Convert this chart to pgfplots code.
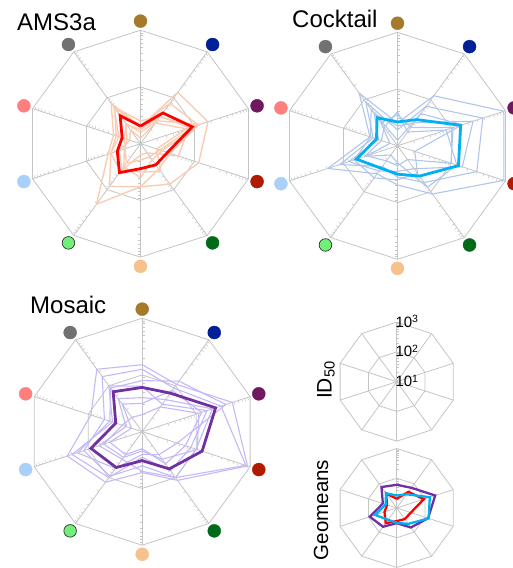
\documentclass[border=0pt]{standalone}
\usepackage{pgfplots}
\pgfplotsset{compat=1.18}
\usepackage{pgfplotstable}
\usepackage{fontspec}
\setmainfont{Liberation Sans}

\definecolor{gridc}{RGB}{196,196,196}
\definecolor{cBrown}{RGB}{165,122,42}
\definecolor{cDblue}{RGB}{0,32,154}
\definecolor{cPurple}{RGB}{112,24,96}
\definecolor{cDred}{RGB}{176,26,0}
\definecolor{cDgreen}{RGB}{0,106,24}
\definecolor{cPeach}{RGB}{245,194,142}
\definecolor{cLgreen}{RGB}{112,240,120}
\definecolor{cLblue}{RGB}{168,208,248}
\definecolor{cSalmon}{RGB}{255,127,127}
\definecolor{cGray}{RGB}{113,113,113}
\definecolor{amsT}{RGB}{255,0,0}
\definecolor{amsL}{RGB}{249,205,180}
\definecolor{cocT}{RGB}{0,176,240}
\definecolor{cocL}{RGB}{175,198,236}
\definecolor{mosT}{RGB}{112,48,160}
\definecolor{mosL}{RGB}{195,184,248}

% values: log10(ID50), directions clockwise from top
\pgfplotstableread{
c s t a1 a2 a3 a4 a5 a6
0 1 1.31 1.30 1.32 1.25 1.10 1.40 1.20
0.5878 0.8090 1.67 2.12 1.88 1.58 1.45 1.60 1.50
0.9511 0.3090 1.96 2.25 2.07 2.00 1.85 1.90 2.10
0.9511 -0.3090 1.50 2.08 1.55 1.36 1.30 1.70 1.40
0.5878 -0.8090 1.46 1.88 1.55 1.28 1.60 1.20 1.35
0 -1 1.44 1.76 1.76 1.29 1.50 1.20 1.60
-0.5878 -0.8090 1.63 2.32 1.93 1.42 1.55 1.60 1.50
-0.9511 -0.3090 1.43 1.60 1.55 1.29 1.40 1.55 1.30
-0.9511 0.3090 1.34 1.50 1.45 1.30 1.20 1.40 1.25
-0.5878 0.8090 1.61 1.88 1.77 1.41 1.30 1.80 1.45
0 1 1.31 1.30 1.32 1.25 1.10 1.40 1.20
}\amsdata

\pgfplotstableread{
c s t b1 b2 b3 b4 b5 b6
0 1 1.42 1.40 1.28 1.55 1.10 1.60 1.35
0.5878 0.8090 1.57 2.09 1.86 1.40 1.70 1.30 1.50
0.9511 0.3090 2.17 2.97 2.58 2.03 2.20 1.90 2.40
0.9511 -0.3090 2.13 2.97 2.47 1.99 1.32 2.10 2.20
0.5878 -0.8090 1.66 2.05 1.80 1.30 1.60 1.90 1.50
0 -1 1.50 1.69 1.55 1.35 1.60 1.30 1.45
-0.5878 -0.8090 1.49 1.61 1.45 1.33 1.70 1.20 1.55
-0.9511 -0.3090 1.76 2.29 2.07 1.57 1.80 1.60 1.90
-0.9511 0.3090 1.39 1.51 1.45 1.14 1.50 1.30 1.35
-0.5878 0.8090 1.61 2.15 1.95 1.50 1.79 1.40 1.70
0 1 1.42 1.40 1.28 1.55 1.10 1.60 1.35
}\cocdata

\pgfplotstableread{
c s t m1 m2 m3 m4 m5 m6 m7
0 1 1.78 2.18 2.10 1.30 1.90 1.60 1.80 1.50
0.5878 0.8090 1.84 2.03 1.95 1.54 2.10 1.70 1.60 1.90
0.9511 0.3090 2.36 2.67 2.46 2.05 2.55 2.30 2.20 2.10
0.9511 -0.3090 2.11 2.95 2.92 2.02 1.65 2.00 1.90 1.80
0.5878 -0.8090 1.81 2.06 2.00 1.60 1.50 2.00 1.85 1.70
0 -1 1.51 1.72 1.60 1.34 1.40 1.70 1.45 1.30
-0.5878 -0.8090 1.78 2.10 1.97 1.56 1.80 1.60 2.00 1.50
-0.9511 -0.3090 1.95 2.39 2.08 1.71 2.20 1.80 2.30 1.60
-0.9511 0.3090 1.49 1.95 1.70 1.37 1.60 1.30 1.55 1.20
-0.5878 0.8090 1.87 2.36 2.20 1.31 1.95 1.72 2.00 1.60
0 1 1.78 2.18 2.10 1.30 1.90 1.60 1.80 1.50
}\mosdata

\newcommand{\radargrid}[4]{%
 \begin{scope}[shift={(#1pt,#2pt)}]
  \draw[gridc, line width=0.8pt] (90:{2*#3pt}) \foreach \a in {54,18,...,-234}{ -- (\a:{2*#3pt})} -- cycle;
  \draw[gridc, line width=0.8pt] (90:{#3pt}) \foreach \a in {54,18,...,-234}{ -- (\a:{#3pt})} -- cycle;
  \foreach \a in {90,54,...,-234} \draw[gridc, line width=0.8pt] (0,0) -- (\a:{2*#3pt});
  \foreach \a in {#4} \foreach \r in {0.301,0.477,0.602,0.699,0.778,0.845,0.903,0.954,1.301,1.477,1.602,1.699,1.778,1.845,1.903,1.954} \draw[gridc, line width=0.5pt, rotate=\a] ({\r*#3pt},0) -- ++(0,-2.6pt);
 \end{scope}}

\newcommand{\rplot}[3]{\addplot[#1] table[x expr={\thisrow{c}*(\thisrow{#2}-1)}, y expr={\thisrow{s}*(\thisrow{#2}-1)}] {#3};}

\newcommand{\dotat}[3]{\addplot[only marks, mark=*, mark size=6.5pt, mark options={fill=#1, draw=#1}] coordinates {(#2,#3)};}
\newcommand{\catdots}{%
 \dotat{cBrown}{0}{2.16}
 \dotat{cDblue}{1.2696}{1.7475}
 \dotat{cPurple}{2.0543}{0.6675}
 \dotat{cDred}{2.0543}{-0.6675}
 \dotat{cDgreen}{1.2696}{-1.7475}
 \dotat{cPeach}{0}{-2.16}
 \addplot[only marks, mark=*, mark size=6.3pt, mark options={fill=cLgreen, draw=black!80, line width=0.7pt}] coordinates {(-1.2696,-1.7475)};
 \dotat{cLblue}{-2.0543}{-0.6675}
 \dotat{cSalmon}{-2.0543}{0.6675}
 \dotat{cGray}{-1.2696}{1.7475}
}

\newcommand{\decade}[1]{10\raisebox{4.8pt}{\fontsize{10.5}{12}\selectfont #1}}

\pgfplotsset{radar/.style={hide axis, anchor=center, xmin=-2, xmax=2, ymin=-2, ymax=2, clip=false, enlargelimits=false},
 thinAms/.style={amsL, line width=1.4pt, line join=round, no marks},
 thinCoc/.style={cocL, line width=1.1pt, line join=round, no marks},
 thinMos/.style={mosL, line width=1.1pt, line join=round, no marks},
 thickAms/.style={amsT, line width=2.8pt, line join=miter, no marks},
 thickCoc/.style={cocT, line width=2.8pt, line join=miter, no marks},
 thickMos/.style={mosT, line width=2.8pt, line join=miter, no marks},
}

\begin{document}
\begin{tikzpicture}
\path (0,0) rectangle (512pt,568pt);
\radargrid{140.5}{424.3}{56.75}{90,54,...,-234}
\radargrid{397.5}{422.2}{56.75}{90,54,...,-234}
\radargrid{142.2}{136.3}{56.75}{90,54,...,-234}
\radargrid{396.7}{186.3}{29.75}{90}
\radargrid{396.7}{60}{29.75}{90}

% AMS3a
\begin{axis}[radar, x=56.75pt, y=56.75pt, at={(140.5pt,424.3pt)}]
\rplot{thinAms}{a1}{\amsdata}
\rplot{thinAms}{a2}{\amsdata}
\rplot{thinAms}{a3}{\amsdata}
\rplot{thinAms}{a4}{\amsdata}
\rplot{thinAms}{a5}{\amsdata}
\rplot{thinAms}{a6}{\amsdata}
\rplot{thickAms}{t}{\amsdata}
\catdots
\end{axis}

% Cocktail
\begin{axis}[radar, x=56.75pt, y=56.75pt, at={(397.5pt,422.2pt)}]
\rplot{thinCoc}{b1}{\cocdata}
\rplot{thinCoc}{b2}{\cocdata}
\rplot{thinCoc}{b3}{\cocdata}
\rplot{thinCoc}{b4}{\cocdata}
\rplot{thinCoc}{b5}{\cocdata}
\rplot{thinCoc}{b6}{\cocdata}
\rplot{thickCoc}{t}{\cocdata}
\catdots
\end{axis}

% Mosaic
\begin{axis}[radar, x=56.75pt, y=56.75pt, at={(142.2pt,136.3pt)}]
\rplot{thinMos}{m1}{\mosdata}
\rplot{thinMos}{m2}{\mosdata}
\rplot{thinMos}{m3}{\mosdata}
\rplot{thinMos}{m4}{\mosdata}
\rplot{thinMos}{m5}{\mosdata}
\rplot{thinMos}{m6}{\mosdata}
\rplot{thinMos}{m7}{\mosdata}
\rplot{thickMos}{t}{\mosdata}
\catdots
\end{axis}

% Geomeans
\begin{axis}[radar, x=29.75pt, y=29.75pt, at={(396.7pt,60pt)}]
\rplot{mosT, line width=2.3pt, line join=miter, no marks}{t}{\mosdata}
\rplot{amsT, line width=2.3pt, line join=miter, no marks}{t}{\amsdata}
\rplot{cocT, line width=2.3pt, line join=miter, no marks}{t}{\cocdata}
\end{axis}

% texts
\node[anchor=base west, inner sep=0pt, font=\fontsize{24}{28}\selectfont] at (17pt,537.3pt) {AMS3a};
\node[anchor=base west, inner sep=0pt, font=\fontsize{24}{28}\selectfont] at (292pt,540.7pt) {Cocktail};
\node[anchor=base west, inner sep=0pt, font=\fontsize{24}{28}\selectfont] at (30pt,254pt) {Mosaic};
\node[anchor=base west, inner sep=0pt, font=\fontsize{15}{17}\selectfont] at (395.3pt,240.6pt) {\decade{3}};
\node[anchor=base west, inner sep=0pt, font=\fontsize{15}{17}\selectfont] at (395.3pt,211pt) {\decade{2}};
\node[anchor=base west, inner sep=0pt, font=\fontsize{15}{17}\selectfont] at (395.3pt,181pt) {\decade{1}};
\node[anchor=base, inner sep=0pt, rotate=90, font=\fontsize{21}{25}\selectfont] at (331.5pt,188pt) {ID\textsubscript{50}};
\node[anchor=base, inner sep=0pt, rotate=90, font=\fontsize{20.5}{24}\selectfont] at (328pt,58pt) {Geomeans};

\pgfresetboundingbox
\path (0,0) rectangle (512pt,568pt);
\end{tikzpicture}
\end{document}
